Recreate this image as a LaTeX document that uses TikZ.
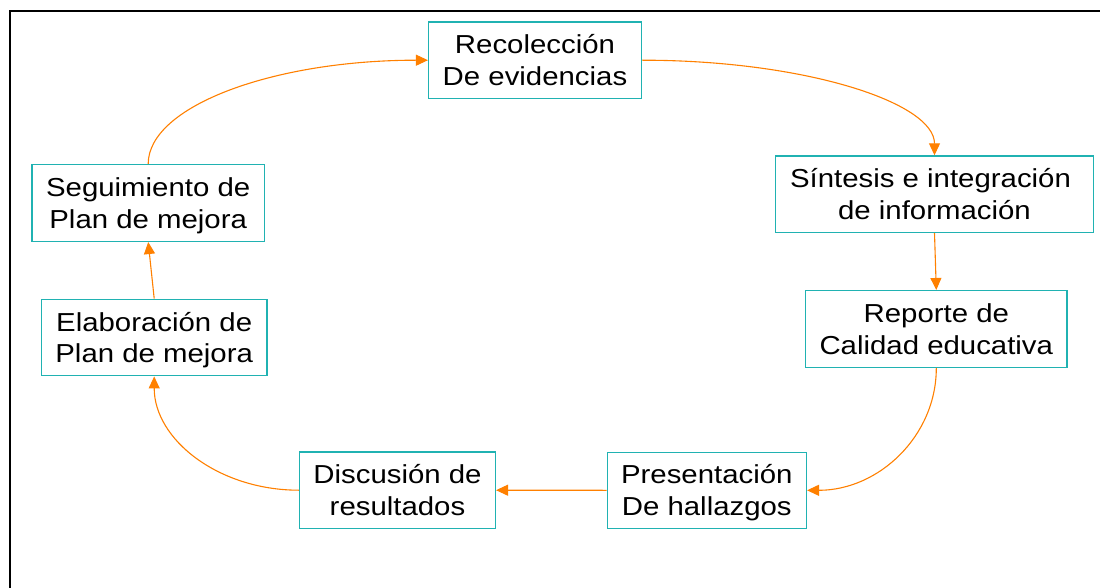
\documentclass[tikz,border=0pt]{standalone}
\usepackage{fontspec}
\setmainfont[FakeStretch=1.13]{Liberation Sans}
\usetikzlibrary{arrows.meta}
\definecolor{boxc}{RGB}{32,178,178}
\definecolor{arrc}{RGB}{255,128,0}
\newcommand\twoline[2]{\vbox{\offinterlineskip\halign{\hfil##\hfil\cr\rule{0pt}{18.6pt}\smash{#1}\cr\noalign{\vskip 31.5pt}\smash{#2}\cr}}}
\begin{document}
\begin{tikzpicture}[x=1pt,y=-1pt,
  stepbox/.style={draw=boxc, line width=1.5pt, fill=white, inner sep=0pt,
    font=\fontsize{26}{31.5}\selectfont},
  flow/.style={draw=arrc, line width=1.1pt, -{Triangle[length=12pt,width=11pt]}}]
\useasboundingbox (0,0) rectangle (1100,588);
\fill[white] (0,0) rectangle (1100,588);
\draw[line width=2pt] (10,588) -- (10,11) -- (1100,11);

\node[stepbox, minimum width=212.6pt, minimum height=76.3pt] (rec) at (535,60.2) {\twoline{Recolección}{De evidencias}};
\node[stepbox, minimum width=318.4pt, minimum height=76.3pt] (sin) at (934.5,194.2) {\twoline{Síntesis e integración\hspace*{8pt}}{de información}};
\node[stepbox, minimum width=261.3pt, minimum height=76.6pt] (rep) at (936.3,329) {\twoline{Reporte de}{Calidad educativa}};
\node[stepbox, minimum width=199pt, minimum height=76pt] (pre) at (706.8,490.3) {\twoline{Presentación}{De hallazgos}};
\node[stepbox, minimum width=195.6pt, minimum height=76.3pt] (dis) at (397.5,490.2) {\twoline{Discusión de}{resultados}};
\node[stepbox, minimum width=225.7pt, minimum height=76.4pt] (ela) at (154.2,337.5) {\twoline{Elaboración de}{Plan de mejora}};
\node[stepbox, minimum width=232.3pt, minimum height=76.6pt] (seg) at (148.2,203) {\twoline{Seguimiento de}{Plan de mejora}};

\draw[flow] (seg.north) .. controls +(0,-57.7) and +(-154.8,0) .. (rec.west);
\draw[flow] (rec.east) .. controls +(161.8,0) and +(0,-52.9) .. (sin.north);
\draw[flow] (sin.south) -- (rep.north);
\draw[flow] (rep.south) .. controls +(0,67.9) and +(71.8,0) .. (pre.east);
\draw[flow] (pre.west) -- (dis.east);
\draw[flow] (dis.west) .. controls +(-80.3,0) and +(0,63.2) .. (ela.south);
\draw[flow] (ela.north) -- (seg.south);
\end{tikzpicture}
\end{document}
